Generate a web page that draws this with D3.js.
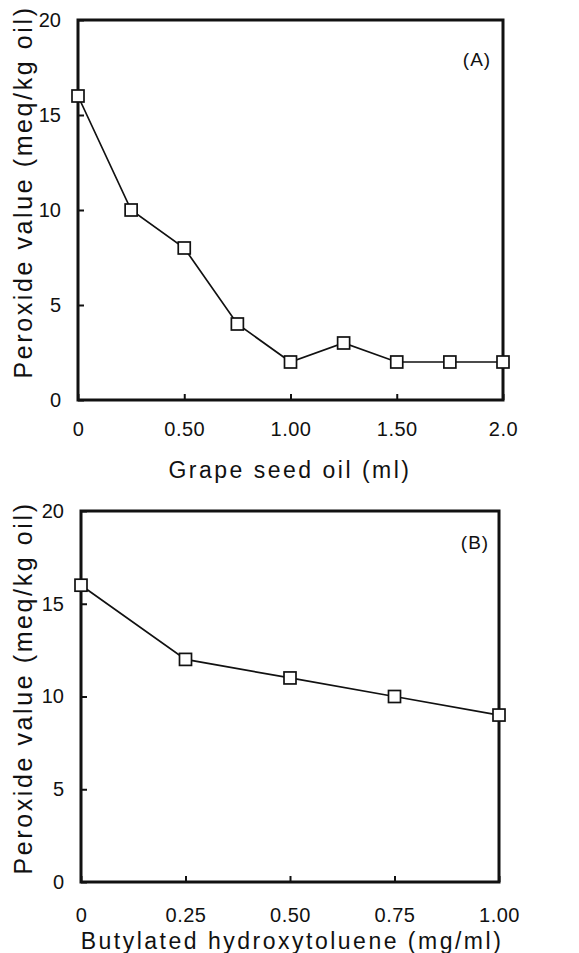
<!DOCTYPE html>
<html>
<head>
<meta charset="utf-8">
<script src="https://cdn.jsdelivr.net/npm/d3@7"></script>
<style>
  body { margin: 0; background: #fff; }
  text { font-family: "Liberation Sans", Arial, sans-serif; fill: #111; }
</style>
</head>
<body>
<script>
// panel A: grape seed oil
var doseA = [0, 0.25, 0.5, 0.75, 1.0, 1.25, 1.5, 1.75, 2.0];
var peroxideA = [16, 10, 8, 4, 2, 3, 2, 2, 2];
var tickValsA = [0, 0.5, 1.0, 1.5, 2.0];
var tickLabelsA = ["0", "0.50", "1.00", "1.50", "2.0"];

// panel B: BHT
var doseB = [0, 0.25, 0.5, 0.75, 1.0];
var peroxideB = [16, 12, 11, 10, 9];
var tickValsB = [0, 0.25, 0.5, 0.75, 1.0];
var tickLabelsB = ["0", "0.25", "0.50", "0.75", "1.00"];

var yTicks = [0, 5, 10, 15, 20];
var yLabel = "Peroxide value (meq/kg oil)";

var svg = d3.select("body").append("svg")
    .attr("width", 579)
    .attr("height", 953);

function drawPanel(p) {
    var x = d3.scaleLinear().domain([0, p.xmax]).range([p.left, p.right]);
    var y = d3.scaleLinear().domain([0, 20]).range([p.bottom, p.top]);

    var g = svg.append("g");

    // x axis, ticks point inward
    var xAxis = g.append("g")
        .attr("transform", "translate(0," + p.bottom + ")")
        .call(d3.axisBottom(x)
            .tickValues(p.tickVals)
            .tickFormat(function (d, i) { return p.tickLabels[i]; })
            .tickSize(-6)
            .tickPadding(p.xPad));
    xAxis.select(".domain").remove();
    xAxis.selectAll("line").attr("stroke", "#111").attr("stroke-width", 2);
    xAxis.selectAll("text")
        .attr("font-size", 20)
        .attr("letter-spacing", "0.5px")
        .attr("fill", "#222");

    var yAxis = g.append("g")
        .attr("transform", "translate(" + p.left + ",0)")
        .call(d3.axisLeft(y)
            .tickValues(yTicks)
            .tickSize(-6)
            .tickPadding(p.yPad));
    yAxis.select(".domain").remove();
    yAxis.selectAll("line").attr("stroke", "#111").attr("stroke-width", 2);
    yAxis.selectAll("text")
        .attr("font-size", 20)
        .attr("fill", "#222");

    // heavy frame
    g.append("rect")
        .attr("x", p.left)
        .attr("y", p.top)
        .attr("width", p.right - p.left)
        .attr("height", p.bottom - p.top)
        .attr("fill", "none")
        .attr("stroke", "#111")
        .attr("stroke-width", 3);

    var pts = p.xs.map(function (d, i) { return { x: d, y: p.ys[i] }; });

    var line = d3.line()
        .x(function (d) { return x(d.x); })
        .y(function (d) { return y(d.y); });

    g.append("path")
        .attr("d", line(pts))
        .attr("fill", "none")
        .attr("stroke", "#111")
        .attr("stroke-width", 1.7);

    var s = 12;
    g.selectAll("rect.pt")
        .data(pts)
        .enter().append("rect")
        .attr("class", "pt")
        .attr("x", function (d) { return x(d.x) - s / 2; })
        .attr("y", function (d) { return y(d.y) - s / 2; })
        .attr("width", s)
        .attr("height", s)
        .attr("fill", "#fff")
        .attr("stroke", "#111")
        .attr("stroke-width", 1.7);

    // panel tag
    g.append("text")
        .attr("x", p.tagX)
        .attr("y", p.tagY)
        .attr("text-anchor", "middle")
        .attr("font-size", 19)
        .attr("letter-spacing", "1px")
        .text(p.tag);

    // axis titles
    g.append("text")
        .attr("x", p.xTitleX)
        .attr("y", p.xTitleY)
        .attr("text-anchor", "middle")
        .attr("font-size", 23)
        .attr("letter-spacing", "2.5px")
        .text(p.xTitle);

    g.append("text")
        .attr("transform", "translate(32," + p.yTitleY + ") rotate(-90)")
        .attr("text-anchor", "middle")
        .attr("font-size", 25)
        .attr("letter-spacing", "2.6px")
        .text(yLabel);
}

drawPanel({
    left: 78, right: 503, top: 20, bottom: 400,
    xmax: 2.0, xs: doseA, ys: peroxideA,
    tickVals: tickValsA, tickLabels: tickLabelsA,
    xPad: 22, yPad: 17,
    tag: "(A)", tagX: 477, tagY: 66,
    xTitle: "Grape seed oil (ml)", xTitleX: 290, xTitleY: 478,
    yTitleY: 192
});

drawPanel({
    left: 81, right: 499, top: 511, bottom: 882,
    xmax: 1.0, xs: doseB, ys: peroxideB,
    tickVals: tickValsB, tickLabels: tickLabelsB,
    xPad: 26, yPad: 17,
    tag: "(B)", tagX: 475, tagY: 549,
    xTitle: "Butylated hydroxytoluene (mg/ml)", xTitleX: 292, xTitleY: 949,
    yTitleY: 688
});
</script>
</body>
</html>
